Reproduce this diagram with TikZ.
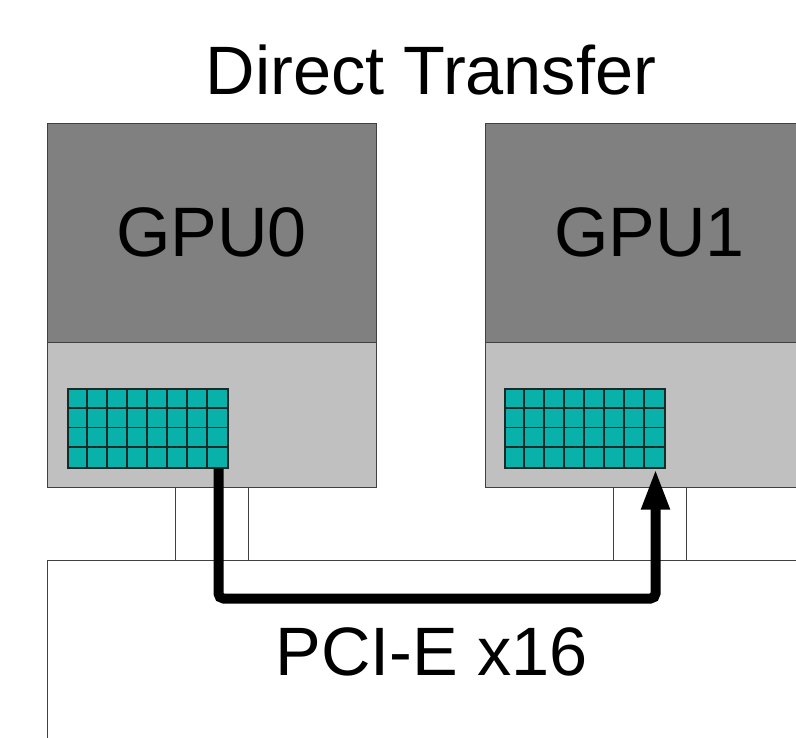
\documentclass[tikz,border=0pt]{standalone}
\usepackage{fontspec}
\setmainfont{Liberation Sans}
\usetikzlibrary{arrows.meta}
\definecolor{gpudark}{HTML}{808080}
\definecolor{gpulight}{HTML}{C0C0C0}
\definecolor{memteal}{HTML}{08B2AA}
\definecolor{edgegray}{HTML}{404040}
\definecolor{griddark}{HTML}{1A2A28}
\tikzset{
  box/.style={draw=edgegray, line width=1.2pt, inner sep=0pt, anchor=north west},
  darkpart/.style={box, fill=gpudark, minimum width=329pt, minimum height=219pt},
  lightpart/.style={box, fill=gpulight, minimum width=329pt, minimum height=145pt},
  slotbox/.style={box, fill=white, line width=0.9pt, minimum width=73pt, minimum height=73pt},
  memgrid/.style={box, fill=memteal, line width=1.5pt, draw=griddark, minimum width=160pt, minimum height=79pt},
  gridline/.style={griddark, line width=1.6pt},
  label/.style={anchor=base, inner sep=0pt, text=black},
  link/.style={line width=10pt, rounded corners=5pt, -{Triangle[length=41pt,width=26pt]}}
}
\begin{document}
\begin{tikzpicture}[x=1pt,y=-1pt]
\useasboundingbox (0,0) rectangle (796,738);
\clip (0,0) rectangle (796,738);
% board
\node[box, fill=white, line width=1pt, minimum width=800pt, minimum height=240pt] (board) at (47,560) {};
% slots
\node[slotbox] (slot0) at (175,487) {};
\node[slotbox] (slot1) at (613,487) {};
% GPU0
\node[lightpart] (gpu0low) at (47,342) {};
\node[darkpart] (gpu0) at (47,123) {};
% GPU1
\node[lightpart] (gpu1low) at (485,342) {};
\node[darkpart] (gpu1) at (485,123) {};
% memory grids
\node[memgrid] (mem0) at (67,388) {};
\node[memgrid] (mem1) at (504,388) {};
\foreach \gx in {67,504}{
  \foreach \i in {1,...,7}{
    \draw[gridline] (\gx+20*\i,388) -- (\gx+20*\i,467);
  }
  \foreach \j in {1,2,3}{
    \draw[gridline] (\gx,388+19.75*\j) -- (\gx+160,388+19.75*\j);
  }
}
% texts
\node[label, font=\fontsize{68.5}{68.5}\selectfont] (title) at (431,95) {Direct Transfer};
\node[label, font=\fontsize{70}{70}\selectfont] (t0) at (211.5,257) {GPU0};
\node[label, font=\fontsize{70}{70}\selectfont] (t1) at (649.5,257) {GPU1};
\node[label, font=\fontsize{68.5}{68.5}\selectfont] (pcie) at (431.5,675) {PCI-E x16};
% transfer path
\coordinate (src) at ([xshift=-10pt]mem0.south east);
\coordinate (dst) at ([xshift=-10pt]mem1.south east);
\draw[link] (src) -- ++(0,130) -| (dst);
\end{tikzpicture}
\end{document}
